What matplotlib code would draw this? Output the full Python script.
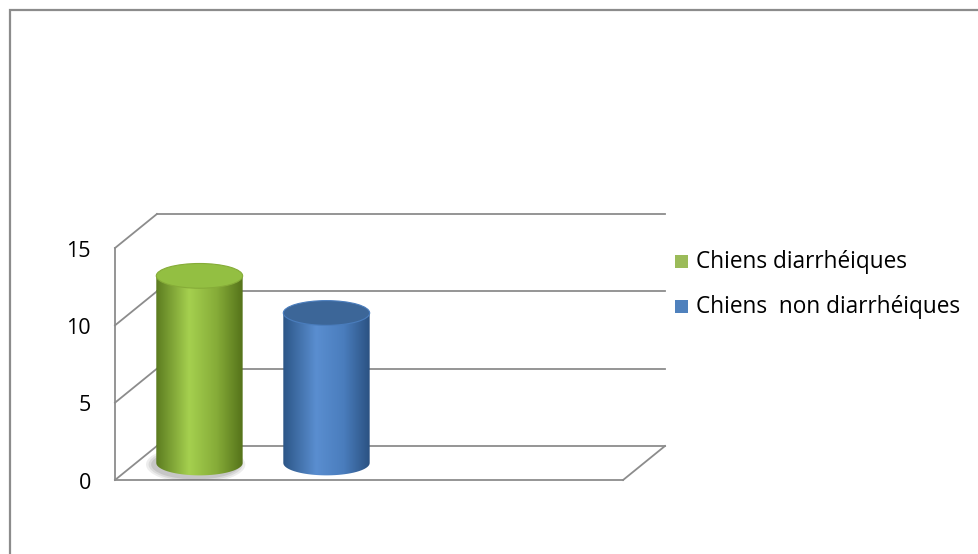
import numpy as np
import matplotlib.pyplot as plt
from matplotlib.patches import Ellipse, Rectangle, PathPatch
from matplotlib.path import Path
from matplotlib.colors import LinearSegmentedColormap

series = ["Chiens diarrhéiques", "Chiens  non diarrhéiques"]
values = [12.1, 9.7]
yticks = [0, 5, 10, 15]

side_colors = [["#5c7c20", "#a5d04f", "#86ac38", "#55731a"],
               ["#2c5687", "#5a8ed0", "#4a7dbd", "#2b5282"]]
top_colors = ["#93bf42", "#3c6698"]
legend_colors = ["#9bbb59", "#4f81bd"]
font = "Open Sans"

W, H = 979, 554
fig = plt.figure(figsize=(W / 100, H / 100), dpi=100)
fig.patch.set_facecolor("white")

# outer chart border (only top and left edges fall inside the image)
fig.add_artist(Rectangle((10 / W, -10 / H), 990 / W, 554 / H, transform=fig.transFigure,
                         fill=False, edgecolor="#8c8c8c", lw=1.6))

ax = fig.add_axes([115 / W, 1 - 480 / H, 550 / W, 266 / H])
nslots = 4
dx, dy = 0.33, 2.2
ax.set_xlim(0, nslots + dx)
ax.set_ylim(0, yticks[-1] + dy)
ax.axis("off")

gcol, glw = "#8c8c8c", 1.3
for v in yticks:
    ax.plot([dx, nslots + dx], [v + dy, v + dy], color=gcol, lw=glw, zorder=1)
    ax.plot([0, dx], [v, v + dy], color=gcol, lw=glw, zorder=1)
    ax.text(-0.19, v - 0.2, str(v), ha="right", va="center", fontsize=15.5, family=font)
ax.plot([0, 0], [0, yticks[-1]], color=gcol, lw=glw, zorder=1)
ax.plot([0, nslots], [0, 0], color=gcol, lw=glw, zorder=1)
ax.plot([nslots, nslots + dx], [0, dy], color=gcol, lw=glw, zorder=1)
for ln in ax.lines:
    ln.set_clip_on(False)

bw = 0.68
eh = 1.6
for i, val in enumerate(values):
    cx = i + 0.5 + dx / 2
    yb = dy / 2
    yt = yb + val
    x0, x1 = cx - bw / 2, cx + bw / 2
    # base shadow
    if i == 0:
        for k, al in enumerate([0.10, 0.12, 0.15]):
            ax.add_patch(Ellipse((cx - 0.03, yb - 0.1), bw * (1.15 - 0.06 * k), eh * (1.5 - 0.15 * k),
                                 facecolor="#555555", alpha=al, lw=0, zorder=2))
    t = np.linspace(np.pi, 2 * np.pi, 40)
    pts = [(x0, yt), (x0, yb)]
    pts += list(zip(cx + bw / 2 * np.cos(t), yb + eh / 2 * np.sin(t)))
    pts += [(x1, yb), (x1, yt), (x0, yt)]
    clip = PathPatch(Path(pts), facecolor="none", edgecolor="none", zorder=3)
    ax.add_patch(clip)
    cmap = LinearSegmentedColormap.from_list(
        "c%d" % i, list(zip([0, 0.38, 0.7, 1], side_colors[i])))
    grad = np.linspace(0, 1, 200)[None, :]
    im = ax.imshow(grad, cmap=cmap, extent=[x0, x1, yb - eh, yt], aspect="auto",
                   zorder=3, interpolation="bilinear")
    im.set_clip_path(clip)
    ax.add_patch(Ellipse((cx, yt), bw, eh, facecolor=top_colors[i],
                         edgecolor=side_colors[i][2], lw=0.8, zorder=4))

ax.set_xlim(0, nslots + dx)
ax.set_ylim(0, yticks[-1] + dy)

# legend
for i, name in enumerate(series):
    yy = 1 - (262 + 45 * i) / H
    fig.add_artist(Rectangle((675 / W, yy - 6 / H), 13 / W, 13 / H, transform=fig.transFigure,
                             facecolor=legend_colors[i], edgecolor="none"))
    fig.text(696 / W, yy, name, ha="left", va="center", fontsize=16.3, family=font)

fig.savefig("out.png", dpi=100)
